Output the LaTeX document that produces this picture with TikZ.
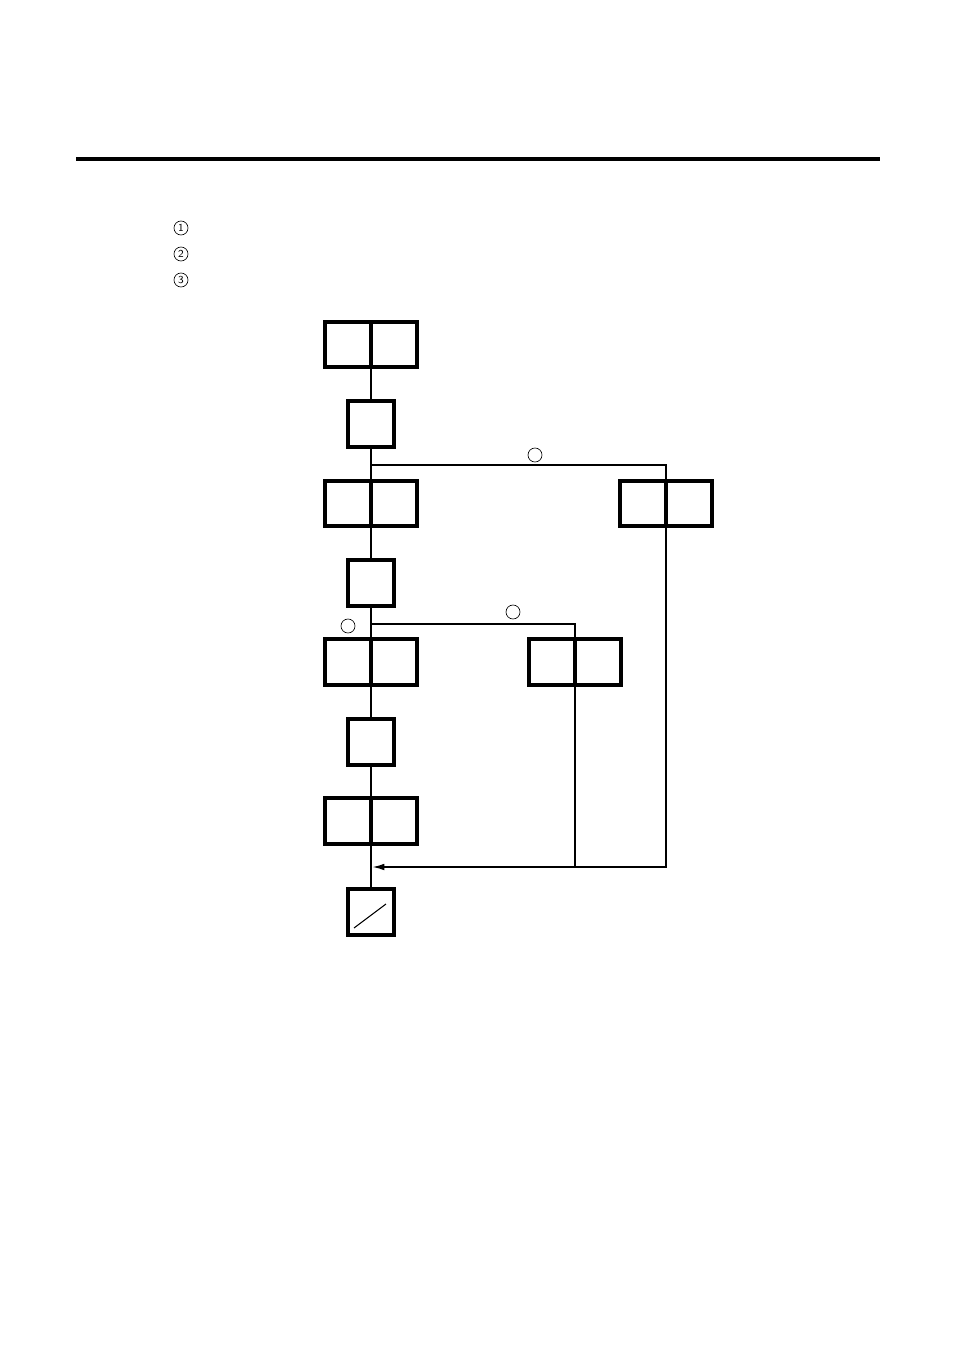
\documentclass[tikz,border=0pt]{standalone}
\usetikzlibrary{positioning,arrows.meta}
\tikzset{
  cell/.style={draw,line width=2.8pt,minimum width=34.5pt,minimum height=34pt,inner sep=0pt,outer sep=0pt},
  link/.style={line width=1.2pt},
  tag/.style={draw,circle,line width=0.5pt,minimum size=10.5pt,inner sep=0pt,font=\sffamily\fontsize{8}{8}\selectfont}
}
\begin{document}
\begin{tikzpicture}[x=0.75pt,y=-0.75pt]
   \useasboundingbox (0,0) rectangle (954,1348);
   \draw[line width=2.4pt] (76,159) -- (880,159);
   % numbered list
   \node[tag] (n1) at (181,228) {1};
   \node[tag] (n2) at (181,254) {2};
   \node[tag] (n3) at (181,280) {3};
   % main column
   \node[cell] (s0l) at (348,344.5) {};
   \node[cell,right=0pt of s0l] (s0r) {};
   \node[cell] (q1) at (371,424) {};
   \node[cell] (s1l) at (348,503.5) {};
   \node[cell,right=0pt of s1l] (s1r) {};
   \node[cell] (q2) at (371,583) {};
   \node[cell] (s2l) at (348,662) {};
   \node[cell,right=0pt of s2l] (s2r) {};
   \node[cell] (q3) at (371,742) {};
   \node[cell] (s3l) at (348,821) {};
   \node[cell,right=0pt of s3l] (s3r) {};
   \node[cell] (q4) at (371,912) {};
   \draw[line width=0.8pt] (q4.center) ++(-17,16) -- ++(32,-24);
   % branches
   \node[cell] (b1l) at (643,503.5) {};
   \node[cell,right=0pt of b1l] (b1r) {};
   \node[cell] (b2l) at (552,662) {};
   \node[cell,right=0pt of b2l] (b2r) {};
   \coordinate (f1) at (371,465);
   \coordinate (f2) at (371,624);
   \coordinate (j) at (371,867);
   \draw[link] (s0l.south east) -- (q1.north);
   \draw[link] (q1.south) -- (s1l.north east);
   \draw[link] (s1l.south east) -- (q2.north);
   \draw[link] (q2.south) -- (s2l.north east);
   \draw[link] (s2l.south east) -- (q3.north);
   \draw[link] (q3.south) -- (s3l.north east);
   \draw[link] (s3l.south east) -- (q4.north);
   \draw[link] (f1) -| (b1l.north east);
   \draw[link] (f2) -| (b2l.north east);
   \draw[link,-{Latex[length=9pt,width=5pt]}] (b1l.south east) |- ([xshift=1]j);
   \draw[link] (b2l.south east) -- (b2l.south east |- j);
   \node[tag] (c1) at (535,455) {};
   \node[tag] (c2) at (513,612) {};
   \node[tag] (c3) at (348,626) {};
 \end{tikzpicture}
\end{document}
